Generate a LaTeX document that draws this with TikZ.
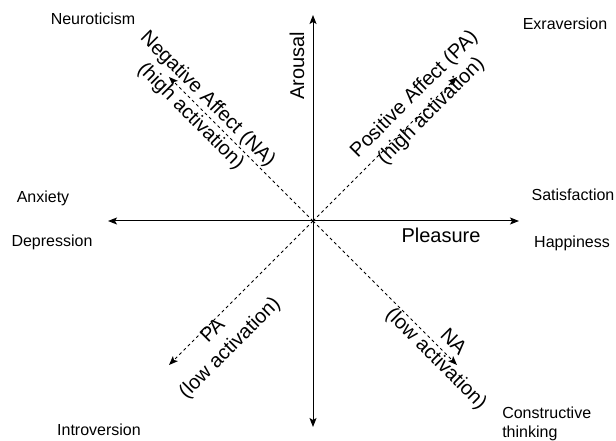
\documentclass[tikz,border=0pt]{standalone}
\usepackage{fontspec}
\setmainfont{Liberation Sans}
\usetikzlibrary{arrows.meta}
\begin{document}
\begin{tikzpicture}[x=0.75pt,y=-0.75pt,>={Stealth[length=6.75pt,width=5.25pt,inset=1.5pt]},
  axis/.style={line width=0.75pt,<->},
  diag/.style={line width=0.6pt,dash pattern=on 2.25pt off 2.25pt,->},
  trait/.style={font=\fontsize{12}{14}\selectfont,inner sep=0pt},
  big/.style={font=\fontsize{15}{18}\selectfont,align=center,inner sep=0pt}]
\useasboundingbox (0,0) rectangle (616,441);
\coordinate (O) at (313,221);
\coordinate (W) at (108,221);
\coordinate (E) at (519,221);
\coordinate (N) at (313,15);
\coordinate (S) at (313,427);
\coordinate (NW) at (169,77);
\coordinate (NE) at (457,77);
\coordinate (SW) at (169,365);
\coordinate (SE) at (457,365);
\draw[axis] (W) -- (E);
\draw[axis] (S) -- (N);
\draw[diag] (O) -- (NW);
\draw[diag] (O) -- (NE);
\draw[diag] (O) -- (SW);
\draw[diag] (O) -- (SE);
\node[big,rotate=90] (arousal) at (297,66) {Arousal};
\node[big] (pleasure) at (441,235) {Pleasure};
\node[big,rotate=-45] (nahigh) at (199,108) {Negative Affect (NA)\\(high activation)};
\node[big,rotate=45] (pahigh) at (423,103) {Positive Affect (PA)\\(high activation)};
\node[big,rotate=-45] (nalow) at (444,351) {NA\\(low activation)};
\node[big,rotate=45] (palow) at (222,340) {PA\\(low activation)};
\node[trait] (neuro) at (93,19) {Neuroticism};
\node[trait] (extra) at (565,24) {Exraversion};
\node[trait] (anx) at (43,198) {Anxiety};
\node[trait] (dep) at (52,242) {Depression};
\node[trait] (sat) at (573,195) {Satisfaction};
\node[trait] (hap) at (572,243) {Happiness};
\node[trait] (intro) at (99,430) {Introversion};
\node[trait,anchor=west,align=left] (constr) at (502,424) {Constructive\\thinking};
\end{tikzpicture}
\end{document}
